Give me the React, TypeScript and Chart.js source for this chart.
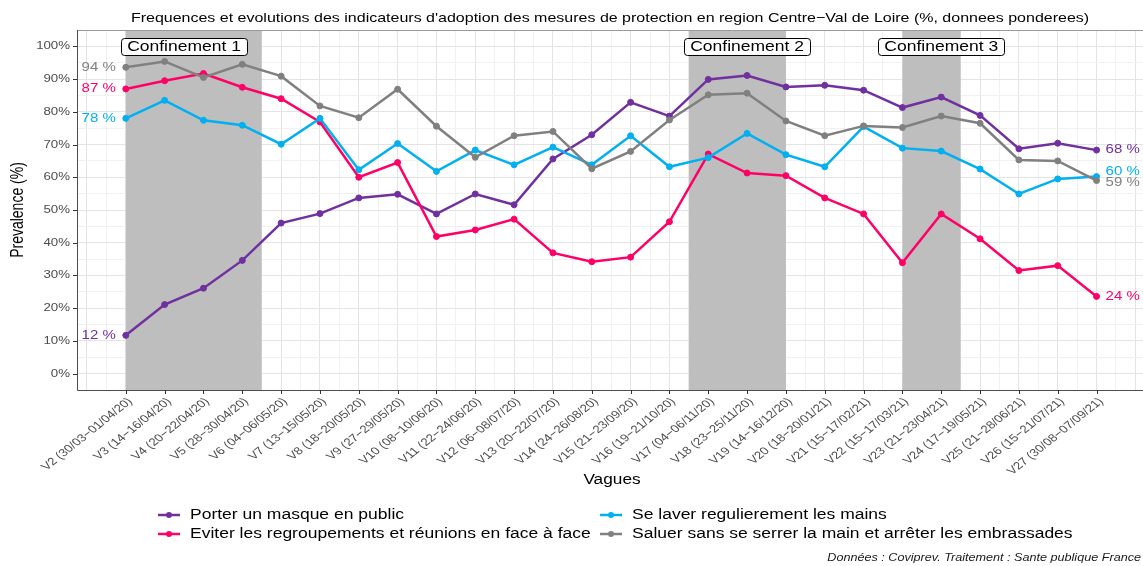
import React, { useEffect, useRef } from "react";
import { Chart, registerables } from "chart.js";

Chart.register(...registerables);

// ---------- data ----------
const waveLabels = [
  "V2 (30/03−01/04/20)",
  "V3 (14−16/04/20)",
  "V4 (20−22/04/20)",
  "V5 (28−30/04/20)",
  "V6 (04−06/05/20)",
  "V7 (13−15/05/20)",
  "V8 (18−20/05/20)",
  "V9 (27−29/05/20)",
  "V10 (08−10/06/20)",
  "V11 (22−24/06/20)",
  "V12 (06−08/07/20)",
  "V13 (20−22/07/20)",
  "V14 (24−26/08/20)",
  "V15 (21−23/09/20)",
  "V16 (19−21/10/20)",
  "V17 (04−06/11/20)",
  "V18 (23−25/11/20)",
  "V19 (14−16/12/20)",
  "V20 (18−20/01/21)",
  "V21 (15−17/02/21)",
  "V22 (15−17/03/21)",
  "V23 (21−23/04/21)",
  "V24 (17−19/05/21)",
  "V25 (21−28/06/21)",
  "V26 (15−21/07/21)",
  "V27 (30/08−07/09/21)",
];
const waveNumbers = [2, 3, 4, 5, 6, 7, 8, 9, 10, 11, 12, 13, 14, 15, 16, 17, 18, 19, 20, 21, 22, 23, 24, 25, 26, 27];

const masque = [11.7, 21.1, 26.1, 34.6, 46.0, 48.9, 53.7, 54.8, 48.8, 54.9, 51.6, 65.6, 73.0, 82.9, 78.7, 89.9, 91.1, 87.6, 88.1, 86.6, 81.3, 84.5, 78.9, 68.7, 70.4, 68.3];
const regroupements = [87.0, 89.5, 91.7, 87.5, 84.0, 76.9, 60.0, 64.5, 41.9, 43.9, 47.2, 36.9, 34.2, 35.6, 46.4, 67.1, 61.3, 60.5, 53.7, 48.8, 33.9, 48.8, 41.2, 31.5, 33.0, 23.6];
const mains = [78.0, 83.5, 77.4, 75.9, 70.1, 78.0, 62.3, 70.3, 61.8, 68.3, 63.8, 69.2, 63.8, 72.7, 63.2, 66.0, 73.4, 66.9, 63.2, 75.5, 68.9, 68.0, 62.5, 54.9, 59.5, 60.2];
const saluer = [93.6, 95.4, 90.5, 94.5, 90.9, 81.8, 78.2, 86.9, 75.6, 66.1, 72.7, 74.0, 62.6, 67.9, 77.5, 85.2, 85.7, 77.2, 72.7, 75.7, 75.2, 78.7, 76.5, 65.3, 65.0, 59.0];

const seriesNames = [
  "Porter un masque en public",
  "Eviter les regroupements et réunions en face à face",
  "Se laver regulierement les mains",
  "Saluer sans se serrer la main et arrêter les embrassades",
];
const seriesColors = ["#7030A0", "#FF0066", "#00B0F0", "#808080"];
// small vertical nudges of the right-hand end labels (repel)
const endLabelNudge = [0, 0, -5, 2];

const yTickValues = [0, 10, 20, 30, 40, 50, 60, 70, 80, 90, 100];

const confStart = [2, 16.5, 22];
const confEnd = [5.5, 19, 23.5];
const confLabelAt = [3.5, 18, 23];
const confLabels = ["Confinement 1", "Confinement 2", "Confinement 3"];

const titleText =
  "Frequences et evolutions des indicateurs d'adoption des mesures de protection en region Centre−Val de Loire (%, donnees ponderees)";
const xTitle = "Vagues";
const yTitle = "Prevalence (%)";
const caption = "Données : Coviprev. Traitement : Sante publique France";

// ---------- style ----------
const FONT = '"Liberation Sans", Arial, Helvetica, sans-serif';
const SX = 1.25; // horizontal text stretch
const X_MIN = 0.743;
const PX_PER_WAVE = 38.83;

function txt(
  ctx: CanvasRenderingContext2D,
  s: string,
  x: number,
  y: number,
  size: number,
  color: string,
  align: CanvasTextAlign,
  opts: { italic?: boolean; baseline?: CanvasTextBaseline; rot?: number } = {}
) {
  ctx.save();
  ctx.translate(x, y);
  ctx.scale(SX, 1);
  if (opts.rot) ctx.rotate(opts.rot);
  ctx.font = `${opts.italic ? "italic " : ""}${size}px ${FONT}`;
  ctx.fillStyle = color;
  ctx.textAlign = align;
  ctx.textBaseline = opts.baseline ?? "middle";
  ctx.fillText(s, 0, 0);
  ctx.restore();
}

const decorPlugin = {
  id: "decor",
  beforeDatasetsDraw(chart: any) {
    const { ctx, chartArea: a, scales } = chart;
    const x = scales.x;
    ctx.save();
    ctx.fillStyle = "#bebebe";
    for (let i = 0; i < confStart.length; i++) {
      const x0 = x.getPixelForValue(confStart[i]);
      const x1 = x.getPixelForValue(confEnd[i]);
      ctx.fillRect(x0, a.top, x1 - x0, a.bottom - a.top);
    }
    ctx.restore();
  },
  afterDatasetsDraw(chart: any) {
    const { ctx, scales } = chart;
    const x = scales.x;
    const y = scales.y;
    // confinement labels
    for (let i = 0; i < confLabels.length; i++) {
      const cx = x.getPixelForValue(confLabelAt[i]);
      const cy = y.getPixelForValue(100);
      ctx.save();
      ctx.font = `14px ${FONT}`;
      const w = ctx.measureText(confLabels[i]).width * SX + 12;
      const h = 17;
      ctx.beginPath();
      ctx.roundRect(Math.round(cx - w / 2) + 0.5, Math.round(cy - h / 2) + 0.5, Math.round(w), h, 3);
      ctx.fillStyle = "#ffffff";
      ctx.fill();
      ctx.strokeStyle = "#000000";
      ctx.lineWidth = 1;
      ctx.stroke();
      ctx.restore();
      txt(ctx, confLabels[i], cx, cy + 1, 14, "#000000", "center");
    }
    // end labels
    chart.data.datasets.forEach((ds: any, i: number) => {
      const first = ds.data[0];
      const last = ds.data[ds.data.length - 1];
      txt(ctx, `${Math.round(first.y)} %`, x.getPixelForValue(first.x) - 10, y.getPixelForValue(first.y), 12, seriesColors[i], "right");
      txt(
        ctx,
        `${Math.round(last.y)} %`,
        x.getPixelForValue(last.x) + 9,
        y.getPixelForValue(last.y) + endLabelNudge[i],
        12,
        seriesColors[i],
        "left"
      );
    });
  },
  afterDraw(chart: any) {
    const { ctx, chartArea: a, scales } = chart;
    const x = scales.x;
    const y = scales.y;
    ctx.save();
    // panel border
    ctx.lineWidth = 1;
    ctx.strokeStyle = "#9a9a9a";
    ctx.beginPath();
    ctx.moveTo(a.left, a.top + 0.5);
    ctx.lineTo(a.right, a.top + 0.5);
    ctx.stroke();
    ctx.strokeStyle = "#4d4d4d";
    ctx.beginPath();
    ctx.moveTo(a.left + 0.5, a.top);
    ctx.lineTo(a.left + 0.5, a.bottom + 0.5);
    ctx.lineTo(a.right, a.bottom + 0.5);
    ctx.stroke();
    // y ticks
    ctx.strokeStyle = "#333333";
    yTickValues.forEach((v) => {
      const py = Math.round(y.getPixelForValue(v)) + 0.5;
      ctx.beginPath();
      ctx.moveTo(a.left - 4, py);
      ctx.lineTo(a.left, py);
      ctx.stroke();
      txt(ctx, `${v}%`, a.left - 7, py, 10.6, "#4d4d4d", "right");
    });
    // x ticks
    waveNumbers.forEach((v, i) => {
      const px = Math.round(x.getPixelForValue(v)) + 0.5;
      ctx.beginPath();
      ctx.moveTo(px, a.bottom);
      ctx.lineTo(px, a.bottom + 4);
      ctx.stroke();
      txt(ctx, waveLabels[i], px - 1, a.bottom + 6, 10.7, "#4d4d4d", "right", {
        baseline: "top",
        rot: -Math.PI / 4,
      });
    });
    ctx.restore();
    // titles
    txt(ctx, titleText, 610, 18, 12.8, "#000000", "center");
    txt(ctx, xTitle, 612, 480, 13.8, "#000000", "center");
    txt(ctx, yTitle, 18, (a.top + a.bottom) / 2, 14, "#000000", "center", { rot: -Math.PI / 2 });
    // legend
    const cols = [158, 600];
    const rows = [515, 534];
    seriesNames.forEach((name, i) => {
      const col = Math.floor(i / 2);
      const row = i % 2;
      const kx = cols[col];
      const ky = rows[row];
      ctx.save();
      ctx.strokeStyle = seriesColors[i];
      ctx.lineWidth = 2.5;
      ctx.beginPath();
      ctx.moveTo(kx, ky);
      ctx.lineTo(kx + 22, ky);
      ctx.stroke();
      ctx.fillStyle = seriesColors[i];
      ctx.beginPath();
      ctx.arc(kx + 11, ky, 3, 0, Math.PI * 2);
      ctx.fill();
      ctx.restore();
      txt(ctx, name, kx + 32, ky, 14, "#000000", "left");
    });
    // caption
    txt(ctx, caption, 1141, 558, 10.1, "#1a1a1a", "right", { italic: true });
  },
};

export default function App() {
  const ref = useRef<HTMLCanvasElement | null>(null);
  useEffect(() => {
    if (!ref.current) return;
    const series = [masque, regroupements, mains, saluer];
    const xGrid: number[] = [];
    for (let v = 1; v <= 28.5; v += 0.5) xGrid.push(v);
    const yGrid: number[] = [];
    for (let v = -5; v <= 105; v += 5) yGrid.push(v);
    const chart = new Chart(ref.current, {
      type: "line",
      data: {
        datasets: series.map((vals, i) => ({
          label: seriesNames[i],
          data: vals.map((v, j) => ({ x: waveNumbers[j], y: v })),
          borderColor: seriesColors[i],
          backgroundColor: seriesColors[i],
          pointBackgroundColor: seriesColors[i],
          pointBorderColor: seriesColors[i],
          pointRadius: 3,
          pointBorderWidth: 1,
          borderWidth: 2.5,
          tension: 0,
          fill: false,
          order: 4 - i,
        })),
      },
      options: {
        animation: false,
        responsive: false,
        devicePixelRatio: 1,
        layout: { autoPadding: false, padding: { left: 77, right: 0, top: 30, bottom: 176 } },
        plugins: {
          legend: { display: false },
          title: { display: false },
          tooltip: { enabled: false },
        },
        scales: {
          x: {
            type: "linear",
            bounds: "data",
            afterDataLimits: (s: any) => {
              const w = s.right - s.left;
              s.min = X_MIN;
              s.max = X_MIN + (w > 0 ? w : 1066) / PX_PER_WAVE;
            },
            afterBuildTicks: (s: any) => {
              s.ticks = xGrid.filter((v) => v <= s.max).map((v) => ({ value: v }));
            },
            ticks: { display: false },
            grid: {
              drawTicks: false,
              color: (c: any) => (c.tick && Number.isInteger(c.tick.value) ? "#e4e4e4" : "#f1f1f1"),
              lineWidth: 1,
            },
            border: { display: false },
          },
          y: {
            type: "linear",
            min: -5,
            max: 105,
            afterBuildTicks: (s: any) => {
              s.ticks = yGrid.map((v) => ({ value: v }));
            },
            ticks: { display: false },
            grid: {
              drawTicks: false,
              color: (c: any) => (c.tick && c.tick.value % 10 === 0 ? "#e4e4e4" : "#f1f1f1"),
              lineWidth: 1,
            },
            border: { display: false },
          },
        },
      },
      plugins: [decorPlugin],
    });
    return () => chart.destroy();
  }, []);
  return (
    <div style={{ position: "fixed", left: 0, top: 0, width: 1143, height: 566, background: "#ffffff" }}>
      <canvas ref={ref} width={1143} height={566} style={{ display: "block", width: 1143, height: 566 }} />
    </div>
  );
}
